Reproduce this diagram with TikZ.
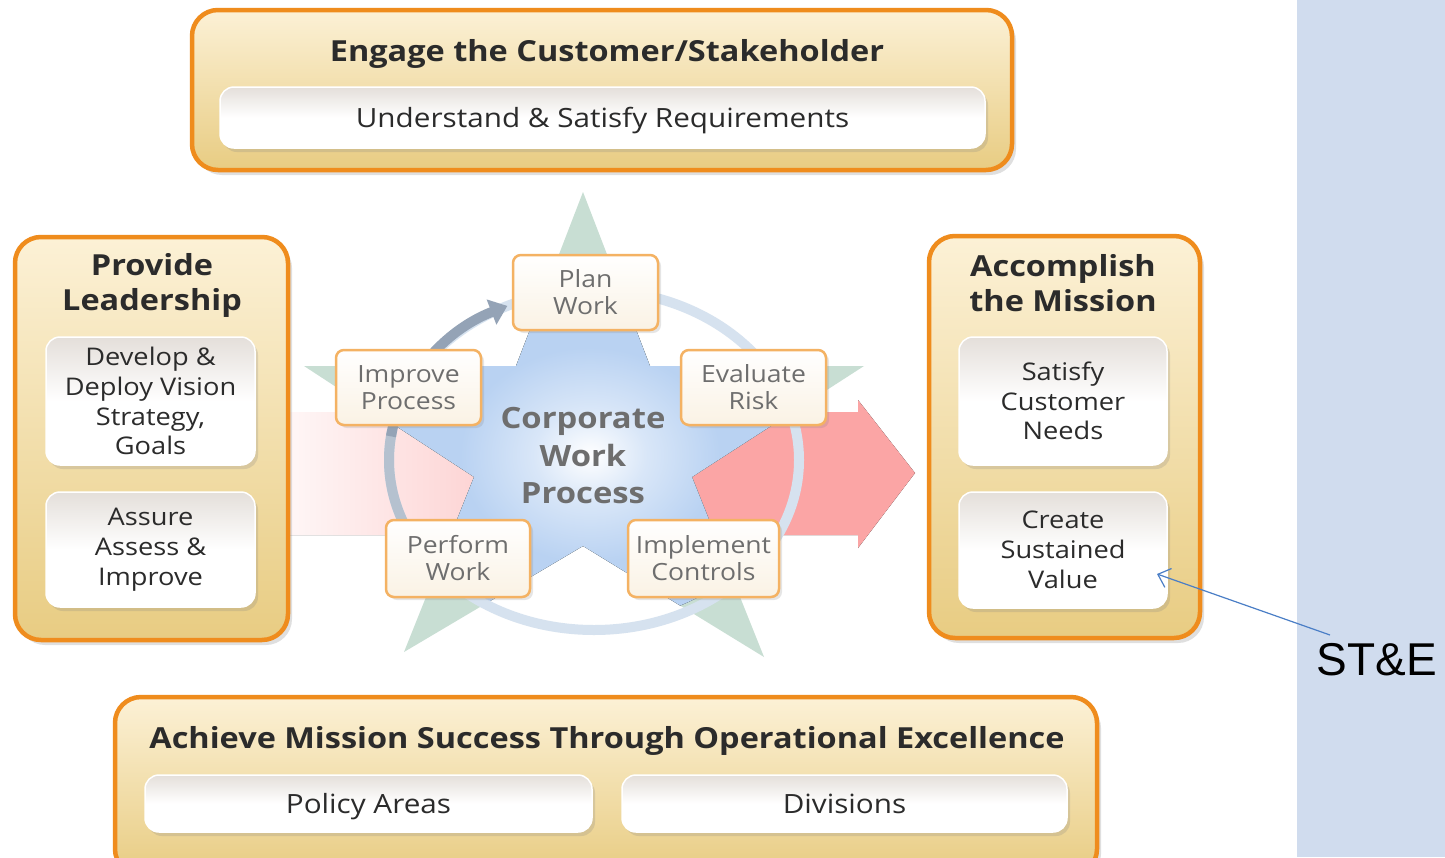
\documentclass[tikz,border=0pt]{standalone}
\usepackage{fontspec}
\setmainfont{Open Sans}[FakeStretch=1.12]
\newfontfamily\arialf{Liberation Sans}
\usetikzlibrary{shadows,arrows.meta,calc}
\definecolor{borderorange}{HTML}{EF8C1D}
\definecolor{creamtop}{HTML}{FCF1D6}
\definecolor{creambot}{HTML}{E8CC82}
\definecolor{innertop}{HTML}{E4DFDA}
\definecolor{paneblue}{HTML}{D0DCEE}
\definecolor{darktext}{HTML}{2B2B2B}
\definecolor{graytext}{HTML}{6E6E6E}
\definecolor{smallorange}{HTML}{F4B263}
\definecolor{smallbot}{HTML}{FAF2E4}
\definecolor{stargreen}{HTML}{C8DED3}
\definecolor{starblue}{HTML}{B9D2F2}
\definecolor{ringlight}{HTML}{D6E2EF}
\definecolor{ringdark}{HTML}{94A3B6}
\definecolor{ringmid}{HTML}{B5C1CF}
\definecolor{pinkarrow}{HTML}{FBA5A5}
\definecolor{stearrow}{HTML}{4A7EC6}
\pgfdeclareradialshading{glow}{\pgfpoint{0bp}{0bp}}{color(0bp)=(white); color(7bp)=(white!45!starblue); color(16bp)=(starblue); color(50bp)=(starblue)}
\pgfdeclarehorizontalshading{pinkfade}{100bp}{color(0bp)=(white); color(25bp)=(pinkarrow!10); color(38bp)=(pinkarrow!42); color(56bp)=(pinkarrow); color(100bp)=(pinkarrow)}
\tikzset{
  outerbox/.style={draw=borderorange, line width=4.5pt, rounded corners=26pt,
    top color=creamtop, bottom color=creambot, inner sep=0pt,
    drop shadow={opacity=0.25, shadow xshift=4pt, shadow yshift=-5pt}},
  innerbox/.style={draw=white, line width=1.5pt, rounded corners=14pt,
    top color=innertop, bottom color=white, middle color=white,
    inner sep=0pt, align=center, text=darktext,
    font=\fontsize{24.3}{29.8}\selectfont,
    drop shadow={opacity=0.22, shadow xshift=3pt, shadow yshift=-4pt}},
  oneline/.style={font=\fontsize{26.5}{30}\selectfont, text height=19pt, text depth=0pt},
  smallbox/.style={draw=smallorange, line width=2.5pt, rounded corners=8pt,
    top color=white, bottom color=smallbot, inner sep=0pt, align=center,
    text=graytext, font=\fontsize{23.7}{27}\selectfont,
    minimum width=145pt, minimum height=75pt,
    drop shadow={opacity=0.2, shadow xshift=3pt, shadow yshift=-3pt}},
  bigtitle/.style={font=\fontsize{29}{34}\selectfont\bfseries, text=darktext, inner sep=0pt, anchor=base},
  sidetitle/.style={font=\fontsize{29}{35}\selectfont\bfseries, text=darktext, align=center, inner sep=0pt},
  coretext/.style={font=\fontsize{29.3}{37.5}\selectfont\bfseries, text=graytext, align=center, inner sep=0pt}
}
\begin{document}
\begin{tikzpicture}[x=1pt,y=-1pt]
\useasboundingbox (0,0) rectangle (1445,857);
\fill[white] (0,0) rectangle (1445,857);
% right pane
\fill[paneblue] (1297,0) rectangle (1445,857);
% red arrow
\fill[shading=pinkfade]
  (290,412) -- (858,412) -- (858,400) -- (915,473) -- (858,548) -- (858,535) -- (290,535) -- cycle;
% star
\path (583,192) coordinate (s1) (650,366) coordinate (i1) (864,366) coordinate (s2)
  (692,477) coordinate (i2) (764,657) coordinate (s3) (583,546) coordinate (i3)
  (404,652) coordinate (s4) (474,477) coordinate (i4) (304,366) coordinate (s5)
  (516,366) coordinate (i5);
\fill[stargreen] (s1) -- (i1) -- (s2) -- (i2) -- (s3) -- (i3) -- (s4) -- (i4) -- (s5) -- (i5) -- cycle;
\begin{scope}
  \clip (s1) -- (i1) -- (s2) -- (i2) -- (s3) -- (i3) -- (s4) -- (i4) -- (s5) -- (i5) -- cycle;
  \fill[shading=glow] (590,455) ellipse [x radius=203, y radius=168];
\end{scope}
% ring
\coordinate (rc) at (594,460);
\draw[ringlight, line width=10pt] (rc) ellipse [x radius=205, y radius=170];
\draw[ringmid, line width=10pt] ($(rc)+(150:205 and 170)$) arc[start angle=150, end angle=190, x radius=205, y radius=170];
\draw[ringdark, line width=10pt, -{Triangle[length=17pt,width=26pt]}] ($(rc)+(188:205 and 170)$) arc[start angle=188, end angle=245, x radius=205, y radius=170];
% small boxes
\node[smallbox] (plan) at (585.5,292.5) {Plan\\Work};
\node[smallbox] (improve) at (408.5,387.5) {Improve\\Process};
\node[smallbox] (evaluate) at (753.5,387.5) {Evaluate\\Risk};
\node[smallbox, minimum width=144pt, minimum height=77pt] (perform) at (458,558.5) {Perform\\Work};
\node[smallbox, minimum width=151pt, minimum height=77pt] (implement) at (703.5,558.5) {Implement\\Controls};
\node[coretext] (core) at (583,456) {Corporate\\Work\\Process};
% top box
\node[outerbox, minimum width=820pt, minimum height=160pt] (engage) at (602,90) {};
\node[bigtitle] (engaget) at (607,61) {Engage the Customer/Stakeholder};
\node[innerbox, oneline, minimum width=765pt, minimum height=61pt] (req) at (602.5,117.5) {Understand \& Satisfy Requirements};
% left box
\node[outerbox, minimum width=273pt, minimum height=403pt] (lead) at (151.5,438.5) {};
\node[sidetitle] (leadt) at (152,285) {Provide\\Leadership};
\node[innerbox, minimum width=209pt, minimum height=128pt] (vision) at (150.5,401) {Develop \&\\Deploy Vision\\Strategy,\\Goals};
\node[innerbox, minimum width=209pt, minimum height=115pt] (assure) at (150.5,549.5) {Assure\\Assess \&\\Improve};
% right box
\node[outerbox, minimum width=271pt, minimum height=402pt] (mission) at (1064.5,437) {};
\node[sidetitle] (missiont) at (1063,283) {Accomplish\\the Mission};
\node[innerbox, minimum width=208pt, minimum height=128pt] (needs) at (1063,401) {Satisfy\\Customer\\Needs};
\node[innerbox, minimum width=208pt, minimum height=116pt] (value) at (1063,550) {Create\\Sustained\\Value};
% bottom box
\node[outerbox, minimum width=982pt, minimum height=178pt] (excel) at (606,786) {};
\node[bigtitle] (excelt) at (607,748) {Achieve Mission Success Through Operational Excellence};
\node[innerbox, oneline, minimum width=447pt, minimum height=57pt] (policy) at (368.5,803.5) {Policy Areas};
\node[innerbox, oneline, minimum width=445pt, minimum height=57pt] (divisions) at (844.5,803.5) {Divisions};
% ST&E
\node[font=\arialf\fontsize{46}{50}\selectfont, text=black, inner sep=0pt] (ste) at (1377,660) {ST\&E};
\coordinate (stefrom) at (1330,635);
\coordinate (tipv) at (1157,574);
\draw[stearrow, line width=1.2pt, -{Straight Barb[length=11pt,width=20pt]}] (stefrom) -- (tipv);
\end{tikzpicture}
\end{document}
